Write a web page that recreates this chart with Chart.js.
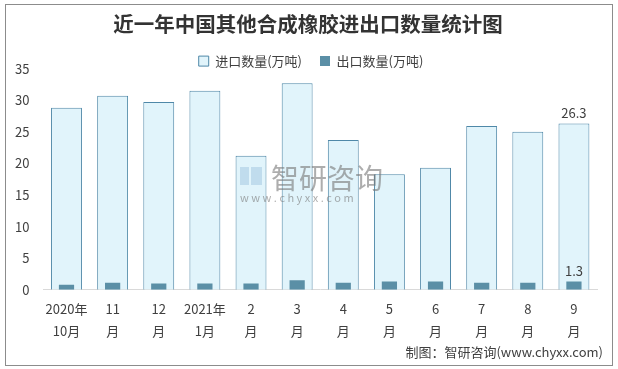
<!DOCTYPE html>
<html lang="zh">
<head>
    <meta charset="UTF-8">
    <title>近一年中国其他合成橡胶进出口数量统计图</title>
    <script src="https://cdn.jsdelivr.net/npm/chart.js"></script>
    <style>
        body { margin: 0; background: #fff; }
        .wrap { position: relative; width: 618px; height: 369px; }
        .frame { position: absolute; left: 5px; top: 4px; width: 606px; height: 360px; border: 1px solid #8c8c8c; pointer-events: none; }
    </style>
</head>
<body>
    <div class="wrap">
        <canvas id="chart" width="618" height="369"></canvas>
        <div class="frame"></div>
    </div>

    <script>
        // data
        const months = [
            ['2020年', '10月'], ['11', '月'], ['12', '月'], ['2021年', '1月'],
            ['2', '月'], ['3', '月'], ['4', '月'], ['5', '月'],
            ['6', '月'], ['7', '月'], ['8', '月'], ['9', '月']
        ];
        const importQty = [28.8, 30.7, 29.7, 31.5, 21.2, 32.7, 23.7, 18.3, 19.3, 25.9, 25.0, 26.3];
        const exportQty = [0.8, 1.1, 1.0, 1.0, 1.0, 1.5, 1.1, 1.3, 1.3, 1.1, 1.1, 1.3];
        const yTicks = [0, 5, 10, 15, 20, 25, 30, 35];

        const fontFamily = '"Noto Sans CJK SC", "Microsoft YaHei", sans-serif';

        // value labels only on the last month
        const lastLabels = {
            id: 'lastLabels',
            afterDatasetsDraw(chart) {
                const ctx = chart.ctx;
                ctx.save();
                ctx.font = '13px ' + fontFamily;
                ctx.fillStyle = '#404040';
                ctx.textAlign = 'center';
                ctx.textBaseline = 'bottom';
                chart.data.datasets.forEach((ds, i) => {
                    const meta = chart.getDatasetMeta(i);
                    const last = ds.data.length - 1;
                    const bar = meta.data[last];
                    ctx.fillText(ds.data[last].toFixed(1), bar.x, bar.y - 4);
                });
                ctx.restore();
            }
        };

        // legend keeps its item spacing but not all the space under it;
        // title and legend are centred on the whole frame, not the padded area
        const tightLegend = {
            id: 'tightLegend',
            afterInit(chart) {
                const legend = chart.legend;
                if (!legend) return;
                const fit = legend.fit.bind(legend);
                legend.fit = function () { fit(); this.height -= 9; };
            },
            afterLayout(chart) {
                if (chart.titleBlock) {
                    chart.titleBlock.left += 5;
                    chart.titleBlock.right += 5;
                }
                if (chart.legend) {
                    chart.legend.left += 8;
                    chart.legend.right += 8;
                }
            }
        };

        // watermark + source line
        const extras = {
            id: 'extras',
            afterDatasetsDraw(chart) {
                const ctx = chart.ctx;
                ctx.save();
                ctx.globalAlpha = 0.5;
                ctx.fillStyle = '#9fc4e0';
                ctx.fillRect(240, 167, 9, 18);
                ctx.fillRect(251, 167, 11, 18);
                ctx.globalAlpha = 0.6;
                ctx.fillStyle = '#777';
                ctx.font = '28px ' + fontFamily;
                ctx.textBaseline = 'middle';
                ctx.textAlign = 'left';
                ctx.fillText('智研咨询', 271, 178);
                ctx.font = '11px ' + fontFamily;
                ctx.fillText('w w w . c h y x x . c o m', 240, 198);
                ctx.restore();

                ctx.save();
                ctx.font = '13px ' + fontFamily;
                ctx.fillStyle = '#404040';
                ctx.textAlign = 'right';
                ctx.textBaseline = 'middle';
                ctx.fillText('制图：智研咨询(www.chyxx.com)', 603, 352);
                ctx.restore();
            }
        };

        new Chart(document.getElementById('chart'), {
            type: 'bar',
            data: {
                labels: months,
                datasets: [
                    {
                        label: '进口数量(万吨)',
                        data: importQty,
                        backgroundColor: '#e1f4fb',
                        borderColor: '#4f88a8',
                        borderWidth: 1,
                        barPercentage: 0.67,
                        categoryPercentage: 1,
                        grouped: false,
                        order: 2
                    },
                    {
                        label: '出口数量(万吨)',
                        data: exportQty,
                        backgroundColor: '#5b8fa6',
                        borderWidth: 0,
                        barPercentage: 0.33,
                        categoryPercentage: 1,
                        grouped: false,
                        order: 1
                    }
                ]
            },
            options: {
                responsive: false,
                animation: false,
                layout: { padding: { left: 9, right: 21, top: 0, bottom: 27 } },
                plugins: {
                    title: {
                        display: true,
                        text: '近一年中国其他合成橡胶进出口数量统计图',
                        color: '#333',
                        font: { family: fontFamily, size: 20.5, weight: 'bold' },
                        padding: { top: 12, bottom: 0 }
                    },
                    legend: {
                        labels: {
                            boxWidth: 10,
                            boxHeight: 10,
                            color: '#404040',
                            font: { family: fontFamily, size: 13 },
                            padding: 18,
                            sort: (a, b) => a.datasetIndex - b.datasetIndex
                        }
                    },
                    tooltip: { enabled: false }
                },
                scales: {
                    x: {
                        grid: { display: false },
                        border: { color: '#d9d9d9' },
                        ticks: {
                            color: '#404040',
                            font: { family: fontFamily, size: 13, lineHeight: 1.7 },
                            maxRotation: 0,
                            padding: 0
                        }
                    },
                    y: {
                        min: yTicks[0],
                        max: yTicks[yTicks.length - 1],
                        grid: { display: false },
                        border: { display: false },
                        afterBuildTicks: (axis) => { axis.ticks = yTicks.map(v => ({ value: v })); },
                        afterFit: (axis) => { axis.paddingTop = 0; },
                        ticks: {
                            color: '#404040',
                            font: { family: fontFamily, size: 13 },
                            padding: 6
                        }
                    }
                }
            },
            plugins: [lastLabels, tightLegend, extras]
        });
    </script>
</body>
</html>
